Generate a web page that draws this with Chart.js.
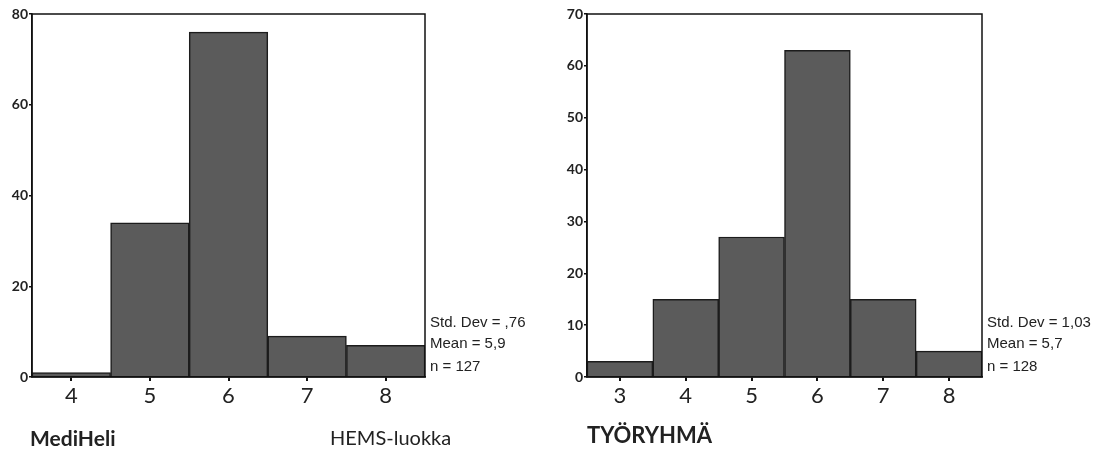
<!DOCTYPE html>
<html>
<head>
<meta charset="utf-8">
<script src="https://cdn.jsdelivr.net/npm/chart.js@4"></script>
<style>
  body { margin: 0; background: #fff; width: 1113px; height: 450px; position: relative; overflow: hidden; }
  .box { position: absolute; top: 0; height: 450px; }
  .cap { position: absolute; font-family: Lato, sans-serif; font-size: 20px; color: #222; line-height: 1; }
  .cap b { font-weight: 700; }
</style>
</head>
<body>
<div class="box" style="left:0;width:556px"><canvas id="medi" width="556" height="450"></canvas></div>
<div class="box" style="left:556px;width:557px"><canvas id="tyo" width="557" height="450"></canvas></div>
<div class="cap" style="left:30px;top:427px;font-size:21px"><b>MediHeli</b></div>
<div class="cap" style="left:330px;top:427px">HEMS-luokka</div>
<div class="cap" style="left:587px;top:424px;font-size:22px"><b>TYÖRYHMÄ</b></div>
<script>
// HEMS-luokka frequencies
const mediClasses = ['4', '5', '6', '7', '8'];
const mediCounts = [1, 34, 76, 9, 7];
const mediStats = ['Std. Dev = ,76', 'Mean = 5,9', 'n = 127'];

const tyoClasses = ['3', '4', '5', '6', '7', '8'];
const tyoCounts = [3, 15, 27, 63, 15, 5];
const tyoStats = ['Std. Dev = 1,03', 'Mean = 5,7', 'n = 128'];

const frame = {
  id: 'frame',
  afterDraw(chart) {
    const a = chart.chartArea;
    const c = chart.ctx;
    c.save();
    c.strokeStyle = '#111';
    c.lineWidth = 1.5;
    c.strokeRect(a.left, a.top, a.right - a.left, a.bottom - a.top);
    // stats block on the right of the plot
    c.fillStyle = '#222';
    c.font = '15px "Liberation Sans", Arial, sans-serif';
    c.textBaseline = 'middle';
    const lines = chart.options.plugins.frame.lines;
    const offs = [-54, -33, -10];
    lines.forEach((t, i) => c.fillText(t, a.right + 5, a.bottom + offs[i]));
    c.restore();
  }
};

function histogram(id, labels, counts, stats, maxY, step, axisW, rightPad) {
  new Chart(document.getElementById(id), {
    type: 'bar',
    data: {
      labels: labels,
      datasets: [{
        data: counts,
        backgroundColor: '#5b5b5b',
        borderColor: '#1c1c1c',
        borderWidth: 1.5,
        barPercentage: 1,
        categoryPercentage: 1
      }]
    },
    options: {
      animation: false,
      responsive: false,
      layout: { padding: { left: 0, right: rightPad, top: 14, bottom: 0 } },
      plugins: {
        legend: { display: false },
        tooltip: { enabled: false },
        frame: { lines: stats }
      },
      scales: {
        x: {
          grid: { offset: false, drawOnChartArea: false, tickLength: 4, color: '#111', lineWidth: 2 },
          border: { color: '#111', width: 1.5 },
          ticks: { color: '#222', padding: 2, font: { family: 'Lato', size: 22 } },
          afterFit(s) { s.height = 73; }
        },
        y: {
          min: 0,
          max: maxY,
          grid: { drawOnChartArea: false, tickLength: 3, color: '#111', lineWidth: 1.5 },
          border: { color: '#111', width: 1.5 },
          ticks: { stepSize: step, color: '#222', padding: 1, font: { family: 'Lato', size: 14, weight: 'bold' } },
          afterFit(s) { s.width = axisW; }
        }
      }
    },
    plugins: [frame]
  });
}

histogram('medi', mediClasses, mediCounts, mediStats, 80, 20, 32, 131);
histogram('tyo', tyoClasses, tyoCounts, tyoStats, 70, 10, 31, 131);
</script>
</body>
</html>
